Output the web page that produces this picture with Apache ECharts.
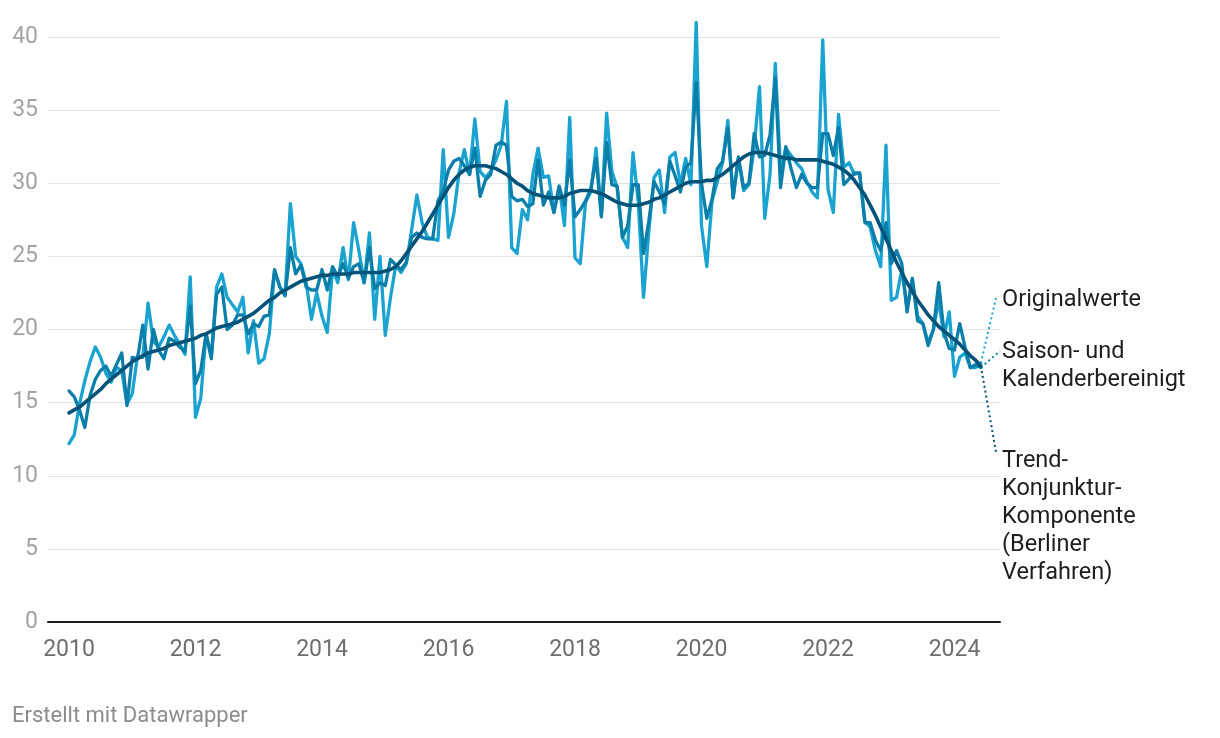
<!DOCTYPE html>
<html>
<head>
<meta charset="utf-8">
<script src="https://cdn.jsdelivr.net/npm/echarts@6/dist/echarts.min.js"></script>
<style>
html,body{margin:0;padding:0;background:#fff;}
#c{width:1220px;height:738px;}
</style>
</head>
<body>
<div id="c"></div>
<script>
// Monthly values, January 2010 onwards
const startYear = 2010;

const originalValues = [
  12.2,12.8,14.9,16.5,17.8,18.8,18.1,17.0,16.4,17.4,17.2,14.9,
  15.6,18.2,18.1,21.8,19.2,18.8,19.5,20.3,19.6,19.0,18.3,23.6,
  14.0,15.3,19.7,18.2,22.9,23.8,22.2,21.7,21.2,22.2,18.4,20.6,
  17.7,18.0,19.7,24.0,22.9,22.4,28.6,25.0,24.5,23.2,20.7,22.5,
  20.9,19.8,24.1,23.2,25.6,23.4,27.3,25.4,23.2,26.6,20.7,25.0,
  19.6,22.2,24.4,23.9,24.5,26.8,29.2,27.3,26.3,26.2,26.1,32.3,
  26.3,27.9,30.7,32.3,30.6,34.4,30.8,30.4,30.8,31.6,32.6,35.6,
  25.6,25.2,28.2,27.5,30.6,32.4,30.4,30.5,28.0,29.8,27.1,34.5,
  24.9,24.5,28.7,29.4,32.4,27.8,34.8,30.8,29.7,26.3,25.6,32.1,
  28.7,22.2,26.7,30.4,30.9,28.0,31.8,32.1,29.9,31.7,29.9,41.0,
  27.1,24.3,28.8,30.1,31.4,34.3,29.0,31.7,29.5,29.9,32.4,36.6,
  27.6,30.6,38.2,30.8,32.4,31.9,31.4,31.0,30.1,29.4,29.0,39.8,
  29.6,28.0,34.7,31.1,31.4,30.6,30.7,27.4,27.0,25.4,24.3,32.6,
  22.0,22.2,24.1,21.5,23.4,20.9,20.4,19.1,20.0,22.0,19.5,21.2,
  16.8,18.1,18.4,17.4,17.4,17.7
];

const seasonalValues = [
  15.8,15.4,14.5,13.3,15.5,16.6,17.2,17.5,16.8,17.6,18.4,14.8,
  18.1,18.0,20.3,17.3,20.0,18.6,18.0,19.4,19.2,18.8,18.5,21.6,
  16.3,17.2,19.7,18.0,22.4,22.9,20.0,20.3,21.0,21.0,19.7,20.4,
  20.2,20.9,21.0,24.1,22.9,22.3,25.6,23.8,24.4,22.9,22.7,22.7,
  24.1,22.7,24.3,23.6,24.5,23.5,24.3,24.5,23.2,25.6,22.8,23.2,
  23.0,24.8,24.4,24.1,24.6,26.3,26.6,26.3,26.2,26.2,28.8,29.5,
  30.9,31.5,31.7,31.2,30.6,32.4,29.1,30.2,30.6,32.6,32.8,32.6,
  29.1,28.8,28.9,28.4,28.6,31.6,28.5,29.4,28.0,29.8,28.5,31.6,
  27.7,28.2,28.8,29.6,31.7,27.7,32.8,29.9,29.8,26.3,27.1,29.9,
  29.9,25.2,27.4,30.1,29.4,28.6,31.5,30.5,29.4,31.1,31.4,36.9,
  30.0,27.6,28.9,31.0,31.5,33.8,29.0,31.8,29.7,30.0,33.4,31.8,
  31.9,33.3,37.2,29.7,32.5,31.0,29.7,30.6,30.0,29.7,29.7,33.4,
  33.4,31.9,33.8,29.9,30.3,30.7,30.7,27.3,27.3,26.1,25.4,27.3,
  24.5,25.4,24.5,21.2,23.5,20.6,20.4,18.9,20.0,23.2,19.8,18.7,
  18.6,20.4,18.8,17.4,17.6,17.4
];

const trendValues = [
  14.3,14.5,14.7,15.0,15.3,15.6,15.9,16.3,16.6,16.9,17.2,17.5,
  17.8,18.0,18.2,18.4,18.5,18.6,18.7,18.9,19.0,19.1,19.2,19.3,
  19.4,19.6,19.7,19.9,20.1,20.2,20.3,20.4,20.5,20.7,20.9,21.1,
  21.4,21.7,22.0,22.2,22.5,22.7,22.9,23.1,23.3,23.4,23.5,23.6,
  23.7,23.7,23.8,23.8,23.8,23.8,23.9,23.9,23.9,23.9,23.9,23.9,
  24.0,24.1,24.3,24.7,25.2,25.7,26.2,26.7,27.3,27.9,28.5,29.1,
  29.7,30.2,30.6,30.9,31.1,31.2,31.2,31.2,31.1,31.0,30.8,30.6,
  30.3,30.0,29.8,29.5,29.3,29.2,29.1,29.0,29.0,29.0,29.1,29.3,
  29.4,29.5,29.5,29.5,29.4,29.3,29.1,28.9,28.7,28.6,28.5,28.5,
  28.5,28.6,28.7,28.9,29.0,29.2,29.4,29.6,29.8,30.0,30.1,30.1,
  30.1,30.2,30.2,30.4,30.6,30.9,31.2,31.5,31.8,32.0,32.1,32.1,
  32.1,32.0,31.9,31.8,31.7,31.7,31.6,31.6,31.6,31.6,31.6,31.5,
  31.4,31.3,31.1,30.9,30.6,30.2,29.7,29.2,28.5,27.8,27.0,26.2,
  25.4,24.6,23.9,23.2,22.6,22.0,21.5,21.0,20.6,20.2,19.9,19.6,
  19.3,19.0,18.6,18.2,17.9,17.5
];

const xTickYears = [2010, 2012, 2014, 2016, 2018, 2020, 2022, 2024];
const yTickValues = [0, 5, 10, 15, 20, 25, 30, 35, 40];

const seriesNames = ['Originalwerte', 'Saison- und Kalenderbereinigt', 'Trend-Konjunktur-Komponente (Berliner Verfahren)'];
const labelTexts = ['Originalwerte', 'Saison- und\nKalenderbereinigt', 'Trend-\nKonjunktur-\nKomponente\n(Berliner\nVerfahren)'];
const colors = ['#1aa3d0', '#0b7fa9', '#035379'];

function toPoints(arr) {
  return arr.map((v, i) => [startYear + i / 12, v]);
}

const FONT = 'Roboto, "Noto Sans", sans-serif';
const chart = echarts.init(document.getElementById('c'), null, {renderer: 'canvas'});

const gridLeft = 48, gridRight = 220, gridTop = 37, gridBottom = 116;
const xMin = 2010 - 21 / 63.25;
const xMax = 2010 + 931 / 63.25;

const lineSeries = (name, data, color, width, z) => ({
  name: name,
  type: 'line',
  data: toPoints(data),
  showSymbol: false,
  symbol: 'none',
  clip: false,
  z: z,
  lineStyle: {color: color, width: width, join: 'round', cap: 'round'},
  emphasis: {disabled: true},
  animation: false
});

chart.setOption({
  backgroundColor: '#ffffff',
  animation: false,
  grid: {left: gridLeft, right: gridRight, top: gridTop, bottom: gridBottom, containLabel: false},
  xAxis: {
    type: 'value',
    min: xMin,
    max: xMax,
    axisLine: {show: true, lineStyle: {color: '#1a1a1a', width: 2}},
    axisTick: {show: false},
    splitLine: {show: false},
    axisLabel: {
      customValues: xTickYears,
      color: '#6e6e6e',
      fontSize: 23,
      fontFamily: FONT,
      margin: 17,
      formatter: v => String(Math.round(v))
    }
  },
  yAxis: {
    type: 'value',
    min: 0,
    max: 40,
    interval: 5,
    axisLine: {show: false},
    axisTick: {show: false},
    splitLine: {show: true, lineStyle: {color: '#e3e3e3', width: 1}},
    axisLabel: {
      color: '#a3a3a3',
      fontSize: 23,
      fontFamily: FONT,
      margin: 10,
      formatter: v => yTickValues.indexOf(v) >= 0 ? String(v) : ''
    }
  },
  series: [
    lineSeries(seriesNames[0], originalValues, colors[0], 3.3, 2),
    lineSeries(seriesNames[1], seasonalValues, colors[1], 3.3, 3),
    lineSeries(seriesNames[2], trendValues, colors[2], 3.6, 4)
  ]
});

// Connectors + labels
const n = originalValues.length;
const lastX = startYear + (n - 1) / 12;
const pO = chart.convertToPixel({gridIndex: 0}, [lastX, originalValues[n - 1]]);
const pS = chart.convertToPixel({gridIndex: 0}, [lastX, seasonalValues[n - 1]]);
const pT = chart.convertToPixel({gridIndex: 0}, [lastX, trendValues[n - 1]]);

const labelX = 1002;
const textStyleBase = {fill: '#1e1e1e', fontSize: 23.5, fontFamily: FONT, lineHeight: 28, align: 'left', verticalAlign: 'top'};

chart.setOption({
  graphic: [
    {type: 'polyline', shape: {points: [pO, [996, 298]]}, style: {stroke: colors[0], lineWidth: 2, lineDash: [2, 3], fill: null}, z: 10},
    {type: 'polyline', shape: {points: [pS, [1000, 351]]}, style: {stroke: colors[1], lineWidth: 2, lineDash: [2, 3], fill: null}, z: 10},
    {type: 'polyline', shape: {points: [pT, [996, 452]]}, style: {stroke: colors[2], lineWidth: 2, lineDash: [2, 3], fill: null}, z: 10},
    {type: 'text', left: labelX, top: 286, style: Object.assign({}, textStyleBase, {text: labelTexts[0]}), z: 10},
    {type: 'text', left: labelX, top: 338, style: Object.assign({}, textStyleBase, {text: labelTexts[1]}), z: 10},
    {type: 'text', left: labelX, top: 447, style: Object.assign({}, textStyleBase, {text: labelTexts[2]}), z: 10},
    {type: 'text', left: 12, top: 705, style: {text: 'Erstellt mit Datawrapper', fill: '#8c8c8c', fontSize: 22, fontFamily: FONT}, z: 10}
  ]
});
</script>
</body>
</html>
